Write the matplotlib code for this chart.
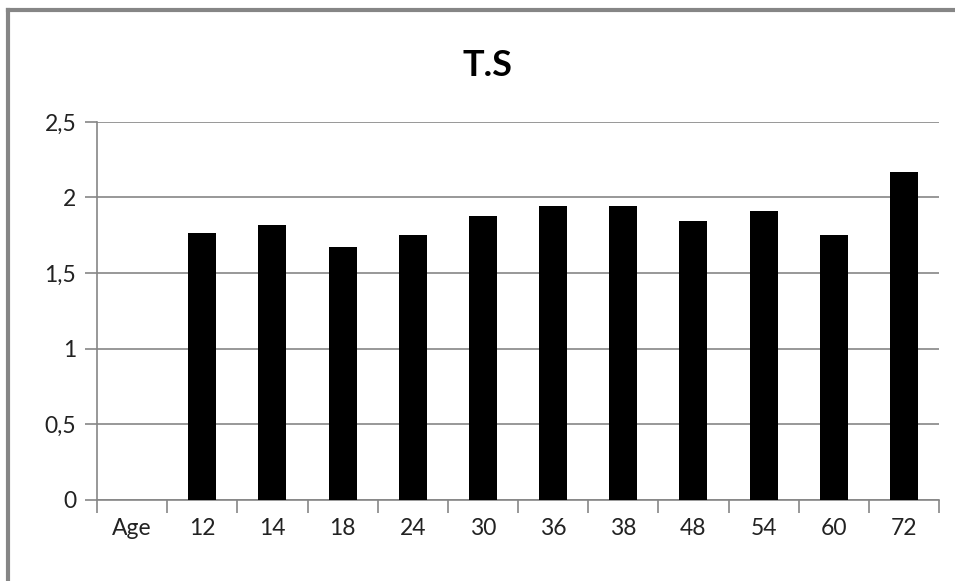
import matplotlib.pyplot as plt
import numpy as np
from matplotlib.lines import Line2D

categorias = ['Age', '12', '14', '18', '24', '30', '36', '38', '48', '54', '60', '72']
valores = [np.nan, 1.765, 1.818, 1.672, 1.752, 1.877, 1.944, 1.944, 1.844, 1.911, 1.752, 2.169]
ticks_y = [0, 0.5, 1, 1.5, 2, 2.5]
etiquetas_y = ['0', '0,5', '1', '1,5', '2', '2,5']

gris = '#868686'
plt.rcParams['font.family'] = ['Lato', 'DejaVu Sans']

fig = plt.figure(figsize=(9.55, 5.81), dpi=100)
ax = fig.add_axes([97 / 955, 1 - 499.5 / 581, (939 - 97) / 955, (499.5 - 122) / 581])

x = np.arange(len(categorias))
ax.bar(x, valores, width=0.4, color='black', zorder=3)

ax.set_xlim(-0.5, len(categorias) - 0.5)
ax.set_ylim(0, 2.5)
ax.set_yticks(ticks_y)
ax.set_yticklabels(etiquetas_y, fontsize=16.5, color='#222222')
ax.yaxis.grid(True, color=gris, linewidth=1.2, zorder=0)
ax.tick_params(axis='y', length=9, color=gris, width=1.2, pad=6)

# etiquetas en el centro, marcas en los bordes de categoria
ax.set_xticks(x)
ax.set_xticklabels(categorias, fontsize=16.5, color='#222222')
ax.tick_params(axis='x', which='major', length=0, pad=13)
ax.set_xticks(np.arange(-0.5, len(categorias)), minor=True)
ax.tick_params(axis='x', which='minor', length=9, color=gris, width=1.2)

for lado in ['top', 'right']:
    ax.spines[lado].set_visible(False)
for lado in ['left', 'bottom']:
    ax.spines[lado].set_color(gris)
    ax.spines[lado].set_linewidth(1.2)

fig.text(487 / 955, 1 - 66 / 581, 'T.S', ha='center', va='center',
         fontsize=26, fontweight='bold')

# borde exterior del grafico
fig.add_artist(Line2D([8 / 955, 8 / 955], [0, 1 - 10 / 581], color=gris, linewidth=3))
fig.add_artist(Line2D([8 / 955, 1], [1 - 10 / 581, 1 - 10 / 581], color=gris, linewidth=3))

fig.savefig('out.png', dpi=100)
